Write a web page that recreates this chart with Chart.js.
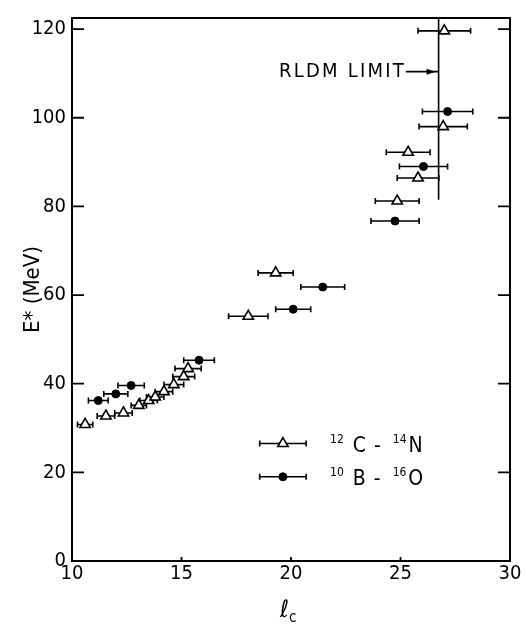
<!DOCTYPE html>
<html><head><meta charset="utf-8">
<script src="https://cdn.jsdelivr.net/npm/chart.js@4.4.1/dist/chart.umd.min.js"></script>
<style>html,body{margin:0;padding:0;background:#fff;}</style>
</head><body>
<canvas id="c" width="525" height="625"></canvas>
<script>
// ---- data ----
const xTickValues = [10, 15, 20, 25, 30];
const yTickValues = [0, 20, 40, 60, 80, 100, 120];

// 12C - 14N (open triangles): critical angular momentum, excitation energy, half error in l_c
const triLc  = [10.6, 11.55, 12.35, 13.05, 13.5, 13.8, 14.2, 14.65, 15.1, 15.3, 18.05, 19.3, 24.85, 25.35, 25.8, 26.95, 27.0];
const triE   = [30.8, 32.7, 33.4, 35.1, 36.2, 37.0, 38.2, 39.8, 41.6, 43.4, 55.2, 65.0, 81.2, 92.2, 86.4, 98.0, 119.6];
const triErr = [0.35, 0.4, 0.4, 0.35, 0.4, 0.4, 0.4, 0.45, 0.5, 0.6, 0.9, 0.8, 1.0, 1.0, 0.95, 1.1, 1.2];

// 10B - 16O (filled circles)
const cirLc  = [11.2, 12.0, 12.7, 15.8, 20.1, 21.45, 24.75, 26.05, 27.15];
const cirE   = [36.2, 37.7, 39.6, 45.3, 56.8, 61.8, 76.7, 89.0, 101.4];
const cirErr = [0.45, 0.55, 0.6, 0.7, 0.8, 1.0, 1.1, 1.1, 1.15];

// RLDM limit line
const rldmLc = 26.74;
const rldmE  = [81.5, 122.5];
const rldmText = 'RLDM LIMIT';
const rldmTextAt = {x: 25.15, y: 110.4};
const rldmTextWidthLc = 5.8;

// legend
const legendEntries = [
  {sup1: '12', a: 'C', sup2: '14', b: 'N', y: 26.5},
  {sup1: '10', a: 'B', sup2: '16', b: 'O', y: 19.0}
];
const legendMarkerLc = 19.63, legendHalf = 1.06;

const yTitle = 'E* (MeV)';
const xTitleMain = 'ℓ', xTitleSub = 'c';

const FONT = '"Liberation Sans Narrow", "DejaVu Sans Condensed", "Liberation Sans", sans-serif';

const triData = triLc.map((v, i) => ({x: v, y: triE[i]}));
const cirData = cirLc.map((v, i) => ({x: v, y: cirE[i]}));
const rldmData = rldmE.map(v => ({x: rldmLc, y: v}));

const errorBars = {
  id: 'errorBars',
  beforeDatasetsDraw(chart) {
    const {ctx, scales: {x, y}} = chart;
    ctx.save();
    ctx.strokeStyle = '#000'; ctx.lineWidth = 1.6;
    chart.data.datasets.forEach(ds => {
      if (!ds.xErr) return;
      ds.data.forEach((p, i) => {
        const e = ds.xErr[i];
        const x0 = x.getPixelForValue(p.x - e), x1 = x.getPixelForValue(p.x + e), py = y.getPixelForValue(p.y);
        ctx.beginPath();
        ctx.moveTo(x0, py); ctx.lineTo(x1, py);
        ctx.moveTo(x0, py - 3); ctx.lineTo(x0, py + 3);
        ctx.moveTo(x1, py - 3); ctx.lineTo(x1, py + 3);
        ctx.stroke();
      });
    });
    ctx.restore();
  }
};

const frame = {
  id: 'frame',
  afterDraw(chart) {
    const {ctx, chartArea: a, scales: {x, y}} = chart;
    ctx.save();
    ctx.strokeStyle = '#000'; ctx.lineWidth = 2;
    ctx.strokeRect(a.left, a.top, a.right - a.left, a.bottom - a.top);
    ctx.lineWidth = 1.8;
    ctx.beginPath();
    yTickValues.forEach(v => {
      const py = y.getPixelForValue(v);
      ctx.moveTo(a.left, py); ctx.lineTo(a.left + 12, py);
      ctx.moveTo(a.right, py); ctx.lineTo(a.right - 12, py);
    });
    xTickValues.forEach(v => {
      const px = x.getPixelForValue(v);
      ctx.moveTo(px, a.bottom); ctx.lineTo(px, a.bottom - 4);
    });
    ctx.stroke();

    // RLDM label + arrow
    const tx = x.getPixelForValue(rldmTextAt.x), ty = y.getPixelForValue(rldmTextAt.y);
    const targetW = x.getPixelForValue(rldmTextAt.x) - x.getPixelForValue(rldmTextAt.x - rldmTextWidthLc);
    ctx.fillStyle = '#000';
    ctx.font = '20px ' + FONT;
    ctx.textBaseline = 'middle'; ctx.textAlign = 'right';
    const w = ctx.measureText(rldmText).width;
    if ('letterSpacing' in ctx) {
      const sp = Math.max(0, (targetW - w) / rldmText.length);
      ctx.letterSpacing = sp.toFixed(2) + 'px';
      ctx.fillText(rldmText, tx + sp, ty);
      ctx.letterSpacing = '0px';
    } else {
      ctx.fillText(rldmText, tx, ty);
    }
    const lx = x.getPixelForValue(rldmLc);
    ctx.lineWidth = 1.6;
    ctx.beginPath(); ctx.moveTo(tx + 2, ty); ctx.lineTo(lx, ty); ctx.stroke();
    ctx.beginPath(); ctx.moveTo(lx - 3, ty); ctx.lineTo(lx - 12, ty - 3); ctx.lineTo(lx - 12, ty + 3); ctx.closePath(); ctx.fill();

    // legend
    const mx = x.getPixelForValue(legendMarkerLc);
    const ex0 = x.getPixelForValue(legendMarkerLc - legendHalf), ex1 = x.getPixelForValue(legendMarkerLc + legendHalf);
    legendEntries.forEach((en, k) => {
      const py = y.getPixelForValue(en.y);
      ctx.strokeStyle = '#000';
      ctx.lineWidth = 1.6;
      ctx.beginPath();
      ctx.moveTo(ex0, py); ctx.lineTo(ex1, py);
      ctx.moveTo(ex0, py - 3); ctx.lineTo(ex0, py + 3);
      ctx.moveTo(ex1, py - 3); ctx.lineTo(ex1, py + 3);
      ctx.stroke();
      const ds = chart.data.datasets[k];
      ctx.fillStyle = ds.backgroundColor; ctx.strokeStyle = '#000'; ctx.lineWidth = ds.borderWidth;
      Chart.helpers.drawPoint(ctx, {pointStyle: ds.pointStyle, radius: ds.pointRadius, borderWidth: ds.borderWidth}, mx, py);
      ctx.fillStyle = '#000';
      ctx.textAlign = 'left'; ctx.textBaseline = 'alphabetic';
      let cx = ex1 + 24;
      const base = py + 8;
      ctx.font = '12px ' + FONT; ctx.fillText(en.sup1, cx, base - 9); cx += ctx.measureText(en.sup1).width + 9;
      ctx.font = '21px ' + FONT; ctx.fillText(en.a, cx, base); cx += ctx.measureText(en.a).width + 8;
      ctx.fillText('-', cx, base); cx += ctx.measureText('-').width + 12;
      ctx.font = '12px ' + FONT; ctx.fillText(en.sup2, cx, base - 9); cx += ctx.measureText(en.sup2).width + 2;
      ctx.font = '21px ' + FONT; ctx.fillText(en.b, cx, base);
    });

    // axis titles
    ctx.save();
    ctx.translate(33, (a.top + a.bottom) / 2);
    ctx.rotate(-Math.PI / 2);
    ctx.font = '22px ' + FONT; ctx.textAlign = 'center'; ctx.textBaseline = 'middle';
    ctx.fillText(yTitle, 0, 0);
    ctx.restore();
    const xc = (a.left + a.right) / 2;
    ctx.font = '24px ' + FONT; ctx.textAlign = 'right'; ctx.textBaseline = 'alphabetic';
    ctx.fillText(xTitleMain, xc - 2, 617);
    ctx.font = '15px ' + FONT; ctx.textAlign = 'left';
    ctx.fillText(xTitleSub, xc - 2, 622);
    ctx.restore();
  }
};

new Chart(document.getElementById('c'), {
  type: 'scatter',
  data: {
    datasets: [
      {label: '12C - 14N', data: triData, xErr: triErr, pointStyle: 'triangle', pointRadius: 6,
       backgroundColor: '#fff', borderColor: '#000', borderWidth: 1.6, order: 1},
      {label: '10B - 16O', data: cirData, xErr: cirErr, pointStyle: 'circle', pointRadius: 4,
       backgroundColor: '#000', borderColor: '#000', borderWidth: 1, order: 0},
      {label: 'RLDM', data: rldmData, showLine: true, pointRadius: 0, borderColor: '#000', borderWidth: 1.6, order: 2}
    ]
  },
  options: {
    responsive: false, animation: false, devicePixelRatio: 1,
    layout: {padding: {left: 0, right: 15, top: 16, bottom: 0}},
    plugins: {legend: {display: false}, tooltip: {enabled: false}},
    scales: {
      x: {
        type: 'linear', min: 10, max: 30,
        afterFit: s => { s.height = 64; },
        afterBuildTicks: s => { s.ticks = xTickValues.map(v => ({value: v})); },
        grid: {display: false, drawTicks: false}, border: {display: false},
        ticks: {color: '#000', padding: 1, maxRotation: 0, font: {size: 20, family: FONT}}
      },
      y: {
        type: 'linear', min: 0, max: 122.5,
        afterFit: s => { s.width = 72; },
        afterBuildTicks: s => { s.ticks = yTickValues.map(v => ({value: v})); },
        grid: {display: false, drawTicks: false}, border: {display: false},
        ticks: {color: '#000', padding: 6, font: {size: 20, family: FONT}}
      }
    }
  },
  plugins: [errorBars, frame]
});
</script>
</body></html>
